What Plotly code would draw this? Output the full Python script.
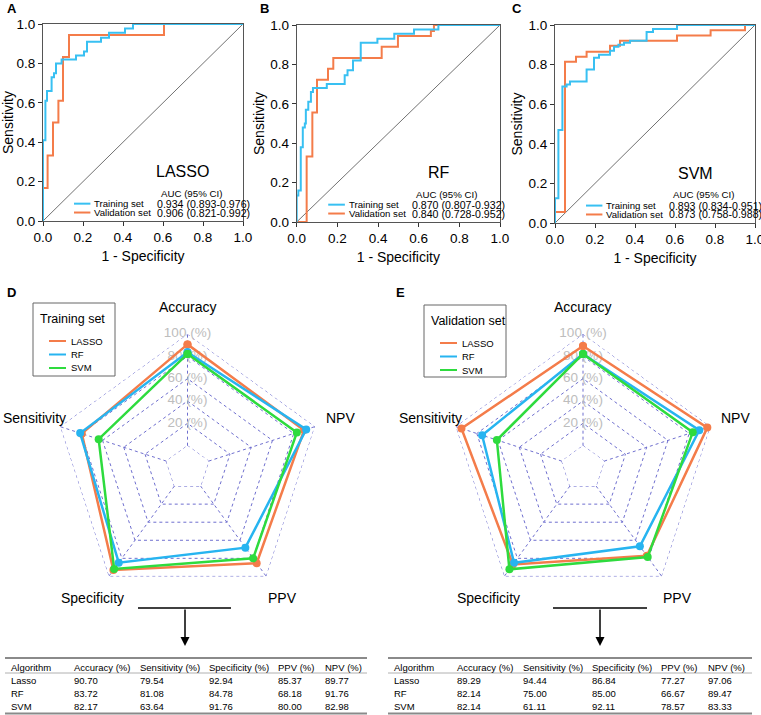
import math
import plotly.graph_objects as go

W, H = 761, 715
FONT = "Arial, Liberation Sans, sans-serif"
BLUE = "#38C0F2"
ORANGE = "#F47C4A"
GREEN = "#2EDB3E"
RBLUE = "#27B4F0"
GRID = "#6F6FCF"

def px(x):
    return x / W

def py(y):
    return 1 - y / H

# ---------------- ROC data (step vertices) ----------------
lasso_train_fpr = [0, 0, 0.012, 0.02, 0.043, 0.055, 0.065, 0.093, 0.165, 0.205, 0.22, 0.29, 0.33, 0.41, 0.45, 1.0]
lasso_train_tpr = [0, 0.41, 0.61, 0.66, 0.73, 0.75, 0.80, 0.82, 0.84, 0.86, 0.91, 0.93, 0.955, 0.977, 1.0, 1.0]
lasso_val_fpr = [0, 0, 0.023, 0.05, 0.077, 0.10, 0.13, 0.605, 1.0]
lasso_val_tpr = [0, 0.167, 0.333, 0.5, 0.61, 0.833, 0.944, 1.0, 1.0]

rf_train_fpr = [0, 0, 0.008, 0.02, 0.03, 0.04, 0.045, 0.057, 0.07, 0.08, 0.148, 0.236, 0.25, 0.277, 0.315, 0.397, 0.48, 0.577, 0.697, 1.0]
rf_train_tpr = [0, 0.135, 0.16, 0.38, 0.48, 0.50, 0.57, 0.61, 0.66, 0.68, 0.70, 0.745, 0.77, 0.82, 0.91, 0.93, 0.955, 0.977, 1.0, 1.0]
rf_val_fpr = [0, 0.049, 0.077, 0.10, 0.154, 0.18, 0.418, 0.498, 0.66, 0.675, 1.0]
rf_val_tpr = [0, 0.333, 0.556, 0.722, 0.778, 0.833, 0.889, 0.944, 0.97, 1.0, 1.0]

svm_train_fpr = [0, 0, 0.017, 0.037, 0.058, 0.075, 0.158, 0.195, 0.22, 0.275, 0.295, 0.317, 0.345, 0.375, 0.458, 0.49, 0.61, 1.0]
svm_train_tpr = [0, 0.125, 0.47, 0.69, 0.70, 0.715, 0.775, 0.835, 0.85, 0.87, 0.89, 0.90, 0.91, 0.92, 0.965, 0.98, 1.0, 1.0]
svm_val_fpr = [0, 0, 0.05, 0.105, 0.158, 0.275, 0.325, 0.61, 0.778, 0.95, 1.0]
svm_val_tpr = [0, 0.056, 0.815, 0.84, 0.865, 0.895, 0.92, 0.947, 0.974, 1.0, 1.0]

roc_models = ["LASSO", "RF", "SVM"]
auc_train = ["0.934 (0.893-0.976)", "0.870 (0.807-0.932)", "0.893 (0.834-0.951)"]
auc_val = ["0.906 (0.821-0.992)", "0.840 (0.728-0.952)", "0.873 (0.758-0.988)"]
tick_vals = [0, 0.2, 0.4, 0.6, 0.8, 1.0]
tick_text = ["0.0", "0.2", "0.4", "0.6", "0.8", "1.0"]

# ---------------- Radar / table data ----------------
metrics = ["Accuracy", "Sensitivity", "Specificity", "PPV", "NPV"]
radar_order = ["Accuracy", "NPV", "PPV", "Specificity", "Sensitivity"]
algorithms = ["Lasso", "RF", "SVM"]
legend_names = ["LASSO", "RF", "SVM"]
train_lasso = [90.70, 79.54, 92.94, 85.37, 89.77]
train_rf = [83.72, 81.08, 84.78, 68.18, 91.76]
train_svm = [82.17, 63.64, 91.76, 80.00, 82.98]
val_lasso = [89.29, 94.44, 86.84, 77.27, 97.06]
val_rf = [82.14, 75.00, 85.00, 66.67, 89.47]
val_svm = [82.14, 61.11, 92.11, 78.57, 83.33]
radial_ticks = [0, 20, 40, 60, 80, 100]
table_header = ["Algorithm", "Accuracy (%)", "Sensitivity (%)", "Specificity (%)", "PPV (%)", "NPV (%)"]

fig = go.Figure()
shapes = []
annotations = []

def txt(text, x, y, size, xanchor="left", color="black", xref="paper", yref="paper", yanchor="middle"):
    annotations.append(dict(text=text, x=x, y=y, xref=xref, yref=yref, showarrow=False,
                            xanchor=xanchor, yanchor=yanchor,
                            font=dict(size=size, family=FONT, color=color)))

# ---------------- ROC panels ----------------
roc_domains = [
    ([px(43), px(243)], [py(221), py(24)]),
    ([px(296.7), px(500)], [py(222), py(25)]),
    ([px(555), px(755)], [py(223), py(25)]),
]
roc_data = [
    (lasso_train_fpr, lasso_train_tpr, lasso_val_fpr, lasso_val_tpr),
    (rf_train_fpr, rf_train_tpr, rf_val_fpr, rf_val_tpr),
    (svm_train_fpr, svm_train_tpr, svm_val_fpr, svm_val_tpr),
]
panel_letters = ["A", "B", "C"]
letter_pos = [(12, 8), (264, 8), (517, 8)]

for i in range(3):
    xa = "x" if i == 0 else f"x{i+1}"
    ya = "y" if i == 0 else f"y{i+1}"
    tf, tt, vf, vt = roc_data[i]
    fig.add_trace(go.Scatter(x=[0, 1], y=[0, 1], mode="lines", line=dict(color="#333", width=0.7),
                             xaxis=xa, yaxis=ya, showlegend=False, hoverinfo="skip"))
    fig.add_trace(go.Scatter(x=vf, y=vt, mode="lines", line=dict(color=ORANGE, width=2, shape="hv"),
                             xaxis=xa, yaxis=ya, showlegend=False))
    fig.add_trace(go.Scatter(x=tf, y=tt, mode="lines", line=dict(color=BLUE, width=2, shape="hv"),
                             xaxis=xa, yaxis=ya, showlegend=False))
    xd, yd = roc_domains[i]
    axkey = "xaxis" if i == 0 else f"xaxis{i+1}"
    aykey = "yaxis" if i == 0 else f"yaxis{i+1}"
    common = dict(range=[0, 1], tickvals=tick_vals, ticktext=tick_text, ticks="outside", ticklen=4,
                  tickcolor="#333", showline=True, linecolor="#555", linewidth=1, mirror=True,
                  showgrid=False, zeroline=False, automargin=False, ticklabeloverflow="allow",
                  tickfont=dict(size=13.5, color="black", family=FONT))
    fig.update_layout(**{
        axkey: dict(domain=xd, anchor=ya,
                    title=dict(text="1 - Specificity", font=dict(size=14, family=FONT, color="black"), standoff=6),
                    **common),
        aykey: dict(domain=yd, anchor=xa,
                    title=dict(text="Sensitivity", font=dict(size=14, family=FONT, color="black"), standoff=2),
                    **common),
    })
    xr = f"{xa} domain"
    yr = f"{ya} domain"
    txt(roc_models[i], 0.70, 0.25, 16, xanchor="center", xref=xr, yref=yr)
    txt("AUC (95% CI)", 0.578, 0.142, 9.7, xref=xr, yref=yr)
    for name, col, auc, yy in [("Training set", BLUE, auc_train[i], 0.088),
                               ("Validation set", ORANGE, auc_val[i], 0.043)]:
        shapes.append(dict(type="line", xref=xr, yref=yr, x0=0.155, x1=0.237, y0=yy, y1=yy,
                           line=dict(color=col, width=2)))
        txt(name, 0.246, yy, 9.6, xref=xr, yref=yr)
        txt(auc, 0.558, yy, 10.6, xref=xr, yref=yr)
    lx, ly = letter_pos[i]
    txt("<b>%s</b>" % panel_letters[i], px(lx), py(ly), 13, xanchor="center")

# ---------------- Radar panels ----------------
def reorder(vals):
    out = [vals[metrics.index(m)] for m in radar_order]
    return out + [out[0]]

R_PX = 134
radar_sets = [
    ("polar", "Training set", [train_lasso, train_rf, train_svm], 187.5, (33, 303, 115, 376)),
    ("polar2", "Validation set", [val_lasso, val_rf, val_svm], 583, (424, 305, 506, 377)),
]
CY = 468
colors = [ORANGE, RBLUE, GREEN]
theta_closed = radar_order + [radar_order[0]]

for sp, title, sets, cx, box in radar_sets:
    # innermost and outermost grid rings
    for rv in (radial_ticks[0], radial_ticks[-1]):
        fig.add_trace(go.Scatterpolar(r=[rv] * len(theta_closed), theta=theta_closed, mode="lines",
                                      line=dict(color=GRID, width=1, dash="dot"),
                                      subplot=sp, showlegend=False, hoverinfo="skip"))
    fig.add_trace(go.Scatterpolar(r=radial_ticks, theta=[radar_order[0]] * len(radial_ticks),
                                  text=["%d (%%)" % v for v in radial_ticks], mode="text",
                                  textfont=dict(size=13.5, color="#BDBDBD", family=FONT),
                                  subplot=sp, showlegend=False, hoverinfo="skip"))
    for k in range(3):
        fig.add_trace(go.Scatterpolar(r=reorder(sets[k]), theta=theta_closed, mode="lines+markers",
                                      name=legend_names[k], line=dict(color=colors[k], width=2.5),
                                      marker=dict(size=8, color=colors[k]), subplot=sp, showlegend=False))
    fig.update_layout(**{sp: dict(
        domain=dict(x=[px(cx - R_PX), px(cx + R_PX)], y=[py(CY + R_PX), py(CY - R_PX)]),
        gridshape="linear",
        hole=1 / 6,
        bgcolor="rgba(0,0,0,0)",
        radialaxis=dict(range=[0, 100], tickvals=radial_ticks, showticklabels=False, ticks="",
                        showline=False, gridcolor=GRID, griddash="dot", gridwidth=1, angle=90),
        angularaxis=dict(direction="clockwise", rotation=90, categoryorder="array", categoryarray=radar_order,
                         showticklabels=False, ticks="", showline=False, gridcolor=GRID,
                         griddash="dot", gridwidth=1),
    )})
    # category labels placed at 1.2 x outer radius
    for j, cat in enumerate(radar_order):
        ang = math.radians(90 - 72 * j)
        lxp = cx + 1.2 * R_PX * math.cos(ang)
        lyp = CY - 1.2 * R_PX * math.sin(ang)
        txt(cat, px(lxp), py(lyp), 14, xanchor="center")
    # legend box
    x0, y0, x1, y1 = box
    shapes.append(dict(type="rect", xref="paper", yref="paper", x0=px(x0), x1=px(x1), y0=py(y1), y1=py(y0),
                       line=dict(color="#666", width=1), fillcolor="white", layer="above"))
    txt(title, px(x0 + 5), py(y0 + 16), 12.5)
    for k in range(3):
        yy = y0 + 38 + 13.5 * k
        shapes.append(dict(type="line", xref="paper", yref="paper", x0=px(x0 + 16), x1=px(x0 + 33),
                           y0=py(yy), y1=py(yy), line=dict(color=colors[k], width=2)))
        txt(legend_names[k], px(x0 + 36), py(yy), 9.5)

for letter, (lx, ly) in [("D", (12, 293)), ("E", (400, 293))]:
    txt("<b>%s</b>" % letter, px(lx), py(ly), 13, xanchor="center")

# ---------------- Arrows + tables ----------------
table_sets = [
    (5, 367, 138, 231, 185, [train_lasso, train_rf, train_svm]),
    (388, 752, 553, 647, 600, [val_lasso, val_rf, val_svm]),
]
col_offsets = [4, 67, 133, 202, 271, 318]
row_y = [667, 680, 693, 706]

for tl, tr, hl0, hl1, ax_x, sets in table_sets:
    shapes.append(dict(type="line", xref="paper", yref="paper", x0=px(hl0), x1=px(hl1), y0=py(608), y1=py(608),
                       line=dict(color="black", width=1.5)))
    annotations.append(dict(x=px(ax_x), y=py(646), xref="paper", yref="paper", ax=0, ay=-38, text="",
                            showarrow=True, arrowhead=2, arrowsize=1.2, arrowwidth=1.5, arrowcolor="black"))
    for yy, w, c in [(658, 2, "#8A8A8A"), (673, 1, "#B0B0B0"), (713.5, 2, "#8A8A8A")]:
        shapes.append(dict(type="line", xref="paper", yref="paper", x0=px(tl), x1=px(tr), y0=py(yy), y1=py(yy),
                           line=dict(color=c, width=w)))
    rows = [table_header] + [[algorithms[k]] + ["%.2f" % v for v in sets[k]] for k in range(3)]
    for ri, row in enumerate(rows):
        for ci, cell in enumerate(row):
            txt(cell, px(tl + col_offsets[ci]), py(row_y[ri]), 9.5)

fig.update_layout(width=W, height=H, autosize=False, margin=dict(l=0, r=0, t=0, b=0, pad=0),
                  paper_bgcolor="white", plot_bgcolor="white", shapes=shapes, annotations=annotations,
                  font=dict(family=FONT), showlegend=False)

fig.write_html("out.html", config={"displayModeBar": False, "responsive": False},
               post_script="document.body.style.margin='0';document.body.style.padding='0';"
                           "document.body.style.overflow='hidden';")
